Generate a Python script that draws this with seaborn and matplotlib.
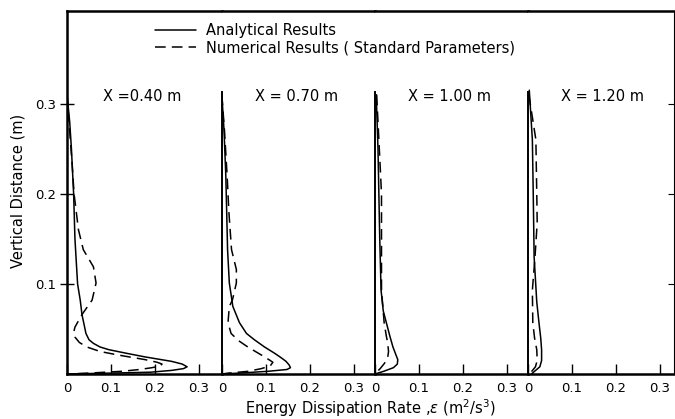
import matplotlib
matplotlib.use("Agg")
import matplotlib.pyplot as plt
import seaborn as sns
from matplotlib.lines import Line2D

# station labels
stations = ["X =0.40 m", "X = 0.70 m", "X = 1.00 m", "X = 1.20 m"]

# analytical profiles (eps, z)
an40_z = [0.31, 0.28, 0.25, 0.20, 0.15, 0.10, 0.082, 0.066, 0.052, 0.045, 0.038, 0.034, 0.030, 0.027, 0.023, 0.019, 0.014, 0.011, 0.008, 0.006, 0.004, 0.002, 0.001, 0.0]
an40_e = [0.0, 0.006, 0.010, 0.015, 0.018, 0.024, 0.030, 0.034, 0.040, 0.043, 0.050, 0.060, 0.075, 0.095, 0.135, 0.177, 0.238, 0.262, 0.273, 0.265, 0.238, 0.19, 0.10, 0.0]
an70_z = [0.31, 0.27, 0.22, 0.18, 0.138, 0.101, 0.075, 0.057, 0.045, 0.038, 0.030, 0.023, 0.018, 0.014, 0.010, 0.007, 0.005, 0.003, 0.001, 0.0]
an70_e = [0.0, 0.005, 0.009, 0.011, 0.013, 0.017, 0.025, 0.040, 0.056, 0.074, 0.097, 0.120, 0.135, 0.146, 0.153, 0.156, 0.148, 0.105, 0.04, 0.0]
an100_z = [0.31, 0.25, 0.20, 0.15, 0.093, 0.070, 0.057, 0.042, 0.030, 0.021, 0.016, 0.011, 0.007, 0.003, 0.0]
an100_e = [0.003, 0.007, 0.009, 0.011, 0.014, 0.019, 0.026, 0.034, 0.041, 0.048, 0.052, 0.051, 0.042, 0.02, 0.0]
an120_z = [0.315, 0.26, 0.20, 0.13, 0.080, 0.057, 0.040, 0.027, 0.015, 0.008, 0.003, 0.0]
an120_e = [0.003, 0.010, 0.012, 0.014, 0.020, 0.025, 0.029, 0.031, 0.031, 0.027, 0.015, 0.008]

# numerical profiles (standard parameters)
nu40_z = [0.31, 0.27, 0.23, 0.20, 0.16, 0.138, 0.119, 0.101, 0.082, 0.066, 0.052, 0.046, 0.041, 0.035, 0.030, 0.025, 0.021, 0.016, 0.013, 0.011, 0.009, 0.007, 0.005, 0.003, 0.001, 0.0]
nu40_e = [0.0, 0.006, 0.012, 0.016, 0.026, 0.037, 0.060, 0.066, 0.057, 0.034, 0.018, 0.015, 0.018, 0.028, 0.045, 0.075, 0.117, 0.177, 0.205, 0.216, 0.212, 0.193, 0.165, 0.125, 0.05, 0.0]
nu70_z = [0.31, 0.27, 0.22, 0.18, 0.138, 0.116, 0.101, 0.082, 0.075, 0.057, 0.045, 0.037, 0.030, 0.019, 0.015, 0.013, 0.009, 0.006, 0.003, 0.001, 0.0]
nu70_e = [0.0, 0.006, 0.012, 0.016, 0.022, 0.033, 0.033, 0.024, 0.017, 0.014, 0.021, 0.038, 0.059, 0.097, 0.110, 0.116, 0.11, 0.09, 0.06, 0.015, 0.0]
nu100_z = [0.31, 0.25, 0.20, 0.15, 0.093, 0.057, 0.042, 0.035, 0.025, 0.018, 0.012, 0.006, 0.0]
nu100_e = [0.004, 0.010, 0.015, 0.015, 0.015, 0.021, 0.026, 0.029, 0.031, 0.029, 0.022, 0.012, 0.0]
nu120_z = [0.31, 0.26, 0.20, 0.168, 0.13, 0.093, 0.057, 0.040, 0.027, 0.015, 0.008, 0.002]
nu120_e = [0.002, 0.018, 0.020, 0.021, 0.016, 0.010, 0.011, 0.015, 0.020, 0.021, 0.017, 0.007]

analytical = [(an40_e, an40_z), (an70_e, an70_z), (an100_e, an100_z), (an120_e, an120_z)]
numerical = [(nu40_e, nu40_z), (nu70_e, nu70_z), (nu100_e, nu100_z), (nu120_e, nu120_z)]

xticks = [0, 0.1, 0.2, 0.3]
xticklabels = ["0", "0.1", "0.2", "0.3"]
yticks = [0.1, 0.2, 0.3]
yticklabels = ["0.1", "0.2", "0.3"]

sns.set_style("ticks")
plt.rcParams["font.family"] = ["DejaVu Sans"]
plt.rcParams.update({"text.color": "black", "axes.edgecolor": "black",
                     "xtick.color": "black", "ytick.color": "black",
                     "axes.labelcolor": "black"})

spans = [0.352, 0.348, 0.348, 0.332]
fig, axes = plt.subplots(1, 4, figsize=(6.75, 4.19), dpi=100, sharey=True,
                         gridspec_kw={"width_ratios": spans, "wspace": 0})
fig.subplots_adjust(left=0.0993, right=0.9985, top=0.974, bottom=0.1074)

for i, ax in enumerate(axes):
    e, z = analytical[i]
    sns.lineplot(x=e, y=z, sort=False, estimator=None, color="black", lw=1.1, ax=ax)
    e, z = numerical[i]
    sns.lineplot(x=e, y=z, sort=False, estimator=None, color="black", lw=1.1,
                 ax=ax).lines[-1].set_dashes([7, 4])
    ax.set_xlim(0, spans[i])
    ax.set_ylim(0, 0.403)
    ax.set_xticks(xticks)
    ax.set_xticklabels(xticklabels, fontsize=9.5)
    ax.tick_params(axis="x", direction="in", length=7, width=1, pad=6)
    ax.text(0.17, 0.308, stations[i], ha="center", va="center", fontsize=10.5)
    for s in ["top", "bottom", "left", "right"]:
        ax.spines[s].set_linewidth(1.8)
    ax.spines["right"].set_visible(False)
    if i > 0:
        ax.spines["left"].set_bounds(0, 0.313)
        ax.spines["left"].set_linewidth(1.4)
        ax.tick_params(axis="y", left=False)
    ax.set_xlabel("")
    ax.set_ylabel("")

axes[0].set_yticks(yticks)
axes[0].set_yticklabels(yticklabels, fontsize=9.5)
axes[0].tick_params(axis="y", direction="inout", length=10, width=1, pad=3)
axes[-1].spines["right"].set_visible(True)
axes[-1].spines["right"].set_linewidth(0.8)
axes[-1].tick_params(axis="y", right=True, direction="in", length=4)

fig.text(0.027, 0.545, "Vertical Distance (m)", rotation=90, ha="center", va="center", fontsize=10.5)
fig.text(0.548, 0.027, r"Energy Dissipation Rate ,$\epsilon$ (m$^2$/s$^3$)", ha="center", va="center", fontsize=10.5)

handles = [Line2D([], [], color="black", lw=1.1),
           Line2D([], [], color="black", lw=1.1, dashes=[7, 4])]
fig.legend(handles, ["Analytical Results", "Numerical Results ( Standard Parameters)"],
           loc="upper left", bbox_to_anchor=(0.23, 0.945), frameon=False,
           fontsize=10.5, handlelength=2.8, handletextpad=0.7, labelspacing=0.15,
           borderaxespad=0, borderpad=0)

plt.savefig("out.png", dpi=100)
